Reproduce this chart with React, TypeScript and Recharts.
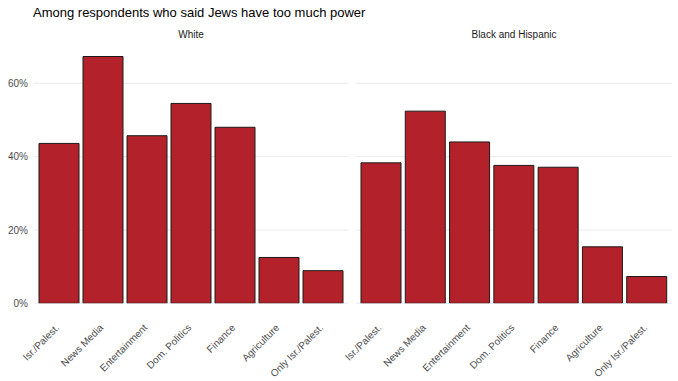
import { BarChart, Bar, XAxis, YAxis, CartesianGrid } from 'recharts'

const categories = [
  'Isr./Palest.',
  'News Media',
  'Entertainment',
  'Dom. Politics',
  'Finance',
  'Agriculture',
  'Only Isr./Palest.',
]
const whiteValues = [43.6, 67.3, 45.7, 54.5, 48.0, 12.5, 8.9]
const blackHispanicValues = [38.3, 52.4, 44.0, 37.6, 37.1, 15.4, 7.3]
const yTicks = [0, 20, 40, 60]

const FONT = '"Liberation Sans", Arial, Helvetica, sans-serif'
const BAR_FILL = '#b3222b'

function AngledTick(props: any) {
  const { x, y, payload } = props
  const bx = x + 1
  const by = y + 25
  return (
    <text
      x={bx}
      y={by}
      transform={`rotate(-45, ${bx}, ${by})`}
      textAnchor="end"
      fontSize={10}
      fontFamily={FONT}
      fill="#4d4d4d"
    >
      {payload.value}
    </text>
  )
}

function Panel({ values, showY, width, left }: { values: number[]; showY: boolean; width: number; left: number }) {
  const data = categories.map((c, i) => ({ name: c, value: values[i] }))
  return (
    <BarChart
      width={width}
      height={381}
      data={data}
      margin={{ top: 46.6, right: 0, bottom: 0, left }}
      barCategoryGap={2}
    >
      <CartesianGrid vertical={false} stroke="#ebebeb" strokeWidth={1} horizontalValues={yTicks} />
      <XAxis
        dataKey="name"
        axisLine={false}
        tickLine={false}
        tickSize={0}
        tickMargin={0}
        interval={0}
        height={77.7}
        padding={{ left: 3, right: 3 }}
        tick={<AngledTick />}
      />
      <YAxis
        hide={!showY}
        width={showY ? 34 : 0}
        domain={[0, 70]}
        ticks={yTicks}
        allowDataOverflow
        axisLine={false}
        tickLine={false}
        tickSize={0}
        tickMargin={6}
        tickFormatter={(v: number) => `${v}%`}
        tick={{ fontSize: 10, fill: '#4d4d4d', fontFamily: FONT }}
      />
      <Bar dataKey="value" fill={BAR_FILL} stroke="#1a1a1a" strokeWidth={1} isAnimationActive={false} />
    </BarChart>
  )
}

export default function App() {
  return (
    <div
      style={{
        position: 'absolute',
        left: 0,
        top: 0,
        width: 678,
        height: 381,
        background: '#fff',
        fontFamily: FONT,
        overflow: 'hidden',
      }}
    >
      <div style={{ position: 'absolute', left: 33, top: 5, fontSize: 13, color: '#000' }}>
        Among respondents who said Jews have too much power
      </div>
      <div style={{ position: 'absolute', left: 34, width: 314, top: 29, fontSize: 10, color: '#1a1a1a', textAlign: 'center' }}>
        White
      </div>
      <div style={{ position: 'absolute', left: 356, width: 316, top: 29, fontSize: 10, color: '#1a1a1a', textAlign: 'center' }}>
        Black and Hispanic
      </div>
      <div style={{ position: 'absolute', left: 0, top: 0 }}>
        <Panel values={whiteValues} showY={true} width={348} left={0} />
      </div>
      <div style={{ position: 'absolute', left: 330, top: 0 }}>
        <Panel values={blackHispanicValues} showY={false} width={342} left={26} />
      </div>
    </div>
  )
}
